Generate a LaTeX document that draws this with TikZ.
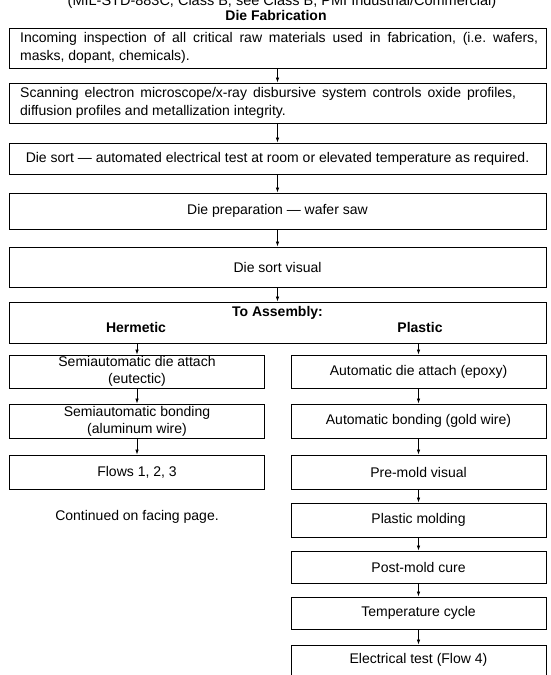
\documentclass[tikz,border=0pt]{standalone}
\usepackage{fontspec}
\setmainfont{Liberation Sans}
\usetikzlibrary{arrows.meta}
\frenchspacing
\begin{document}
\begin{tikzpicture}[x=1pt,y=1pt,
  box/.style={draw, line width=0.9pt, inner sep=0pt, align=center,
    font=\fontsize{14}{17}\selectfont},
  full/.style={box, minimum width=537pt},
  col/.style={box, minimum width=255pt},
  lbl/.style={font=\fontsize{14}{18}\selectfont},
  blbl/.style={font=\fontsize{14}{17}\selectfont\bfseries},
  arr/.style={line width=0.7pt, -{Latex[length=5pt,width=3.5pt]}}]
\useasboundingbox (0,0) rectangle (550,-675);
\clip (0,0) rectangle (550,-675);
\fill[white] (0,0) rectangle (550,-675);
% headings
\node[font=\fontsize{14.5}{17}\selectfont] (top) at (282,-1.5) {(MIL-STD-883C, Class B; see Class B, PMI Industrial/Commercial)};
\node[blbl] (fab) at (276,-15) {Die Fabrication};
% full-width boxes
\node[full, minimum height=40pt] (b1) at (277.5,-48) {};
\node[lbl, anchor=west, align=left, inner sep=0pt] (t1) at (20,-48) {\makebox[518pt][s]{Incoming inspection of all critical raw materials used in fabrication, (i.e. wafers,}\\masks, dopant, chemicals).};
\node[full, minimum height=40pt] (b2) at (277.5,-103) {};
\node[lbl, anchor=west, align=left, inner sep=0pt] (t2) at (20,-103) {\makebox[496pt][s]{Scanning electron microscope/x-ray disbursive system controls oxide profiles,}\\diffusion profiles and metallization integrity.};
\node[full, minimum height=31pt] (b3) at (277.5,-158.5) {Die sort --- automated electrical test at room or elevated temperature as required.};
\node[full, minimum height=36pt] (b4) at (277.5,-211) {Die preparation --- wafer saw};
\node[full, minimum height=40pt] (b5) at (277.5,-267) {Die sort visual};
\node[full, minimum height=41pt] (b6) at (277.5,-322.5) {};
\node[blbl] (asm) at (277.5,-313) {To Assembly:};
\node[blbl] (her) at (136,-327.5) {Hermetic};
\node[blbl] (pla) at (420,-327.5) {Plastic};
% left column
\node[col, minimum height=33pt] (l1) at (137,-371.5) {Semiautomatic die attach\\(eutectic)};
\node[col, minimum height=34pt] (l2) at (137,-421) {Semiautomatic bonding\\(aluminum wire)};
\node[col, minimum height=34pt] (l3) at (137,-472) {Flows 1, 2, 3};
\node[lbl] (cont) at (137,-517) {Continued on facing page.};
% right column
\node[col, minimum height=33pt] (r1) at (418.5,-371.5) {Automatic die attach (epoxy)};
\node[col, minimum height=34pt] (r2) at (418.5,-421) {Automatic bonding (gold wire)};
\node[col, minimum height=34pt] (r3) at (418.5,-472) {Pre-mold visual};
\node[col, minimum height=34pt] (r4) at (418.5,-520) {Plastic molding};
\node[col, minimum height=32pt] (r5) at (418.5,-567) {Post-mold cure};
\node[col, minimum height=32pt] (r6) at (418.5,-613) {Temperature cycle};
\node[col, minimum height=45pt] (r7) at (418.5,-667.5) {};
\node[lbl] (t7) at (418.5,-660) {Electrical test (Flow 4)};
% arrows
\draw[arr] (b1) -- (b2);
\draw[arr] (b2) -- (b3);
\draw[arr] (b3) -- (b4);
\draw[arr] (b4) -- (b5);
\draw[arr] (b5) -- (b6);
\draw[arr] (b6.south -| l1) -- (l1.north);
\draw[arr] (b6.south -| r1) -- (r1.north);
\draw[arr] (l1) -- (l2);
\draw[arr] (l2) -- (l3);
\draw[arr] (r1) -- (r2);
\draw[arr] (r2) -- (r3);
\draw[arr] (r3) -- (r4);
\draw[arr] (r4) -- (r5);
\draw[arr] (r5) -- (r6);
\draw[arr] (r6) -- (r7);
\end{tikzpicture}
\end{document}
